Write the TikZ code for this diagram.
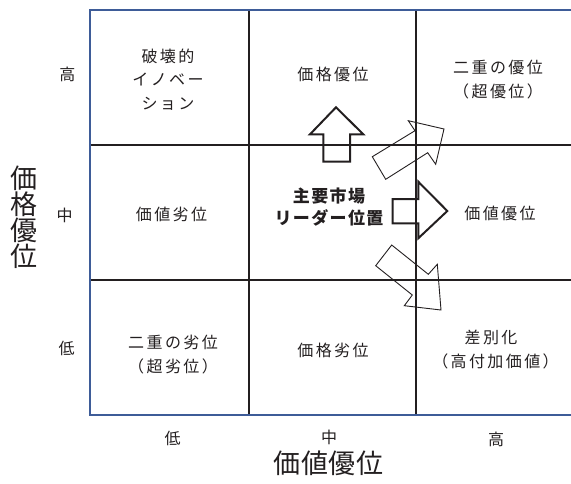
\documentclass[tikz,border=0pt]{standalone}
\usepackage{fontspec}
\newfontfamily\jp[LetterSpace=15]{Noto Sans CJK JP}
\newfontfamily\jpb[LetterSpace=8]{Noto Sans CJK JP}
\newfontfamily\jpbig[LetterSpace=3]{Noto Sans CJK JP}
\definecolor{frameblue}{RGB}{62,92,152}
\definecolor{gridblack}{RGB}{35,31,32}
\begin{document}
\begin{tikzpicture}[x=1pt,y=-1pt,
  cell/.style={align=center,inner sep=0pt,text=gridblack,font=\jp\fontsize{16}{23.5}\selectfont},
  boldcell/.style={align=center,inner sep=0pt,text=gridblack,font=\jpb\bfseries\fontsize{17}{22}\selectfont},
  axislabel/.style={inner sep=0pt,text=gridblack,font=\jp\fontsize{16}{18}\selectfont},
  axistitle/.style={align=center,inner sep=0pt,text=gridblack,font=\jpbig\fontsize{27}{26}\selectfont},
  gridline/.style={draw=gridblack,line width=1.8pt},
  frameline/.style={draw=frameblue,line width=2pt},
  bigarrow/.style={draw=gridblack,line width=2pt,line join=miter},
  thinarrow/.style={draw=gridblack,line width=0.9pt,line join=miter}]
\useasboundingbox (0,0) rectangle (571,483);

% grid
\draw[gridline] (249,9.5) -- (249,415);
\draw[gridline] (416,9.5) -- (416,415);
\draw[gridline] (90,145) -- (571,145);
\draw[gridline] (90,280) -- (571,280);
% frame
\draw[frameline] (573,9.5) -- (90,9.5) -- (90,415) -- (573,415);

% cells
\node[cell] (c11) at (168,79.5) {破壊的\\イノベー\\ション};
\node[cell] (c12) at (333,74) {価格優位};
\node[cell] (c13) at (498,79.5) {二重の優位\\（超優位）};
\node[cell] (c21) at (171.5,214) {価値劣位};
\node[boldcell] (c22) at (329,207.5) {主要市場\\リーダー位置};
\node[cell] (c23) at (500,213.5) {価値優位};
\node[cell] (c31) at (173,354.5) {二重の劣位\\（超劣位）};
\node[cell] (c32) at (333,350) {価格劣位};
\node[cell] (c33) at (495.5,349.5) {差別化\hspace*{9pt}\\（高付加価値）};

% axis labels
\node[axislabel] (yh) at (67.5,74.5) {高};
\node[axislabel] (ym) at (64.5,215) {中};
\node[axislabel] (yl) at (66.5,348) {低};
\node[axislabel] (xl) at (172.5,438) {低};
\node[axislabel] (xm) at (329,437) {中};
\node[axislabel] (xh) at (496,439) {高};
\node[axistitle] (ytitle) at (23.5,217) {価\\格\\優\\位};
\node[axistitle] (xtitle) at (328.5,463) {価値優位};

% arrows
\draw[bigarrow] (336,107.3) -- (363.3,134.3) -- (350,134.3) -- (350,161.7)
  -- (323.3,161.7) -- (323.3,134.3) -- (310,134.3) -- cycle;
\draw[bigarrow] (447.3,211) -- (418.3,238.3) -- (418.3,223.3) -- (392.7,223.3)
  -- (392.7,199) -- (418.3,199) -- (418.3,181.7) -- cycle;
\draw[thinarrow] (372.3,156.7) -- (415,130.7) -- (408.3,120.7) -- (444,129)
  -- (435.7,164.3) -- (427.7,152.7) -- (385.7,179.3) -- cycle;
\draw[thinarrow] (391.7,245) -- (428.3,274.3) -- (437.3,264.3) -- (441,310)
  -- (404.3,305.7) -- (412.3,295) -- (375.7,265.7) -- cycle;
\end{tikzpicture}
\end{document}
